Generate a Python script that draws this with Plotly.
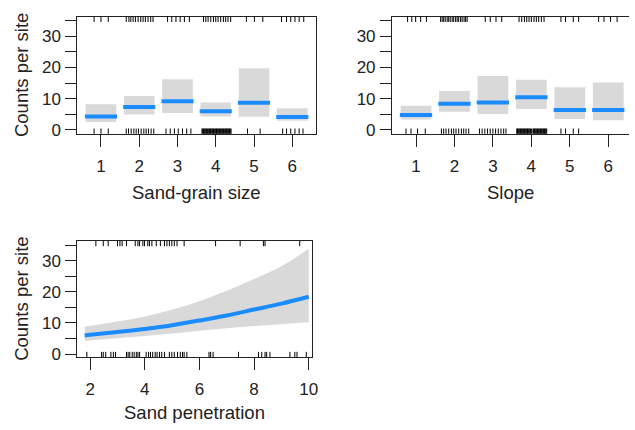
import plotly.graph_objects as go

# ---------------- data ----------------
cats = [1, 2, 3, 4, 5, 6]

grain_fit = [4.3, 7.3, 9.2, 6.0, 8.7, 4.1]
grain_lower = [2.5, 4.9, 5.4, 4.3, 4.2, 2.9]
grain_upper = [8.2, 10.9, 16.2, 8.8, 19.8, 6.9]

slope_fit = [4.8, 8.4, 8.8, 10.5, 6.4, 6.4]
slope_lower = [3.3, 5.8, 5.1, 6.7, 3.5, 3.1]
slope_upper = [7.7, 12.5, 17.3, 16.1, 13.7, 15.2]

pen_x = [1.8, 2, 3, 4, 5, 6, 7, 8, 9, 10]
pen_fit = [6.0, 6.2, 7.1, 8.1, 9.3, 10.8, 12.4, 14.3, 16.2, 18.4]
pen_upper = [8.8, 9.1, 10.5, 12.1, 14.3, 17.0, 20.3, 24.1, 28.2, 33.8]
pen_lower = [4.2, 4.4, 5.1, 5.8, 6.6, 7.5, 8.3, 9.0, 9.6, 10.2]

y_ticks = [0, 5, 10, 15, 20, 25, 30, 35]
y_ticktext = ["0", "", "10", "", "20", "", "30", ""]
pen_ticks = [2, 4, 6, 8, 10]

# rug marks (observations)
grain_rug_top = [0.82, 1.0, 1.19, 1.66, 1.73, 1.78, 1.84, 1.9, 1.97, 2.04, 2.10, 2.16, 2.23,
                 2.30, 2.36, 2.74, 2.85, 2.96, 3.07, 3.18, 3.31, 3.68, 3.74, 3.80, 3.87, 3.94,
                 4.0, 4.06, 4.13, 4.20, 4.26, 4.32, 4.39, 4.80, 5.01, 5.23, 5.72, 5.85, 5.96,
                 6.07, 6.18, 6.30]
grain_rug_bottom = [0.82, 1.0, 1.19, 1.66, 1.72, 1.79, 1.86, 1.92, 1.98, 2.05, 2.12, 2.18, 2.24,
                    2.31, 2.38, 2.70, 2.81, 2.92, 3.02, 3.13, 3.24, 3.35,
                    3.64, 3.66, 3.68, 3.70, 3.72, 3.74, 3.76, 3.78, 3.80, 3.82, 3.84, 3.86,
                    3.88, 3.90, 3.92, 3.94, 3.96, 3.98, 4.00, 4.02, 4.04, 4.06, 4.08, 4.10,
                    4.12, 4.14, 4.16, 4.18, 4.20, 4.22, 4.24, 4.26, 4.28, 4.30, 4.32, 4.34,
                    4.36, 4.38, 4.40, 4.83, 5.16, 5.75, 5.85, 5.96, 6.07, 6.18, 6.28]
slope_rug_top = [0.78, 0.89, 0.99, 1.12, 1.27, 1.64, 1.68, 1.72, 1.76, 1.81, 1.85, 1.89, 1.94,
                 1.98, 2.03, 2.07, 2.11, 2.16, 2.20, 2.25, 2.29, 2.33, 2.80, 2.93, 3.08, 3.23,
                 3.68, 3.75, 3.82, 3.88, 3.94, 4.00, 4.07, 4.13, 4.19, 4.26, 4.33, 4.77, 4.89,
                 5.09, 5.23, 5.75, 5.89, 6.06, 6.23]
slope_rug_bottom = [0.74, 0.87, 1.04, 1.24, 1.66, 1.72, 1.78, 1.85, 1.92, 1.98, 2.04, 2.11,
                    2.18, 2.24, 2.30, 2.37, 2.65, 2.72, 2.79, 2.86, 2.93, 3.00, 3.07, 3.14,
                    3.21, 3.28, 3.34, 3.62, 3.64, 3.66, 3.68, 3.70, 3.72, 3.74, 3.76, 3.78,
                    3.80, 3.82, 3.84, 3.86, 3.88, 3.90, 3.92, 3.94, 3.96, 3.98, 4.00, 4.04,
                    4.06, 4.08, 4.10, 4.12, 4.14, 4.16, 4.18, 4.20, 4.22, 4.24, 4.26, 4.28,
                    4.30, 4.32, 4.34, 4.36, 4.38, 4.40, 4.77, 4.89, 5.09, 5.23]
pen_rug_top = [2.21, 2.48, 2.66, 3.0, 3.09, 3.17, 3.33, 3.65, 3.75, 3.81, 3.93, 3.99, 4.11,
               4.17, 4.26, 4.42, 4.57, 4.72, 4.81, 4.9, 4.99, 5.08, 5.18, 5.44, 6.59, 7.49,
               8.34, 8.40, 9.67]
pen_rug_bottom = [1.88, 2.42, 2.48, 2.57, 2.76, 2.85, 2.93, 3.33, 3.39, 3.45, 3.54, 3.61, 3.69,
                  3.75, 3.81, 4.05, 4.14, 4.21, 4.29, 4.38, 4.45, 4.54, 4.62, 4.72, 4.9, 4.99,
                  5.08, 5.2, 5.3, 5.38, 5.44, 5.54, 6.35, 6.41, 6.5, 7.43, 8.16, 8.28, 8.4,
                  8.46, 8.58, 9.31, 9.49, 9.57, 9.91]

# ---------------- styling ----------------
W, H = 635, 430
BLUE = "#1a8cff"
GREY = "#d9d9d9"
INK = "#222222"
FONT = "Liberation Sans, Arial, sans-serif"
TICKFONT = dict(family=FONT, size=17, color=INK)
TITLEFONT = dict(family=FONT, size=18.5, color=INK)

fig = go.Figure()


def px_x(a, b):
    return [a / W, b / W]


def px_y(top, bottom):
    return [1 - bottom / H, 1 - top / H]


def add_factor_panel(xa, ya, fit, lower, upper):
    fig.add_trace(go.Bar(
        x=cats, y=[u - l for u, l in zip(upper, lower)], base=lower, width=0.8,
        marker=dict(color=GREY, line=dict(width=0)), xaxis=xa, yaxis=ya,
        hoverinfo="skip", showlegend=False))
    xs, ys = [], []
    for c, v in zip(cats, fit):
        xs += [c - 0.42, c + 0.42, None]
        ys += [v, v, None]
    fig.add_trace(go.Scatter(x=xs, y=ys, mode="lines", line=dict(color=BLUE, width=4),
                             xaxis=xa, yaxis=ya, showlegend=False, hoverinfo="skip"))


add_factor_panel("x", "y", grain_fit, grain_lower, grain_upper)
add_factor_panel("x2", "y2", slope_fit, slope_lower, slope_upper)

# continuous panel
fig.add_trace(go.Scatter(x=pen_x, y=pen_upper, mode="lines", line=dict(width=0, shape="spline"),
                         xaxis="x3", yaxis="y3", showlegend=False, hoverinfo="skip"))
fig.add_trace(go.Scatter(x=pen_x, y=pen_lower, mode="lines", line=dict(width=0, shape="spline"),
                         fill="tonexty", fillcolor=GREY,
                         xaxis="x3", yaxis="y3", showlegend=False, hoverinfo="skip"))
fig.add_trace(go.Scatter(x=pen_x, y=pen_fit, mode="lines",
                         line=dict(color=BLUE, width=4, shape="spline"),
                         xaxis="x3", yaxis="y3", showlegend=False, hoverinfo="skip"))

# rugs
shapes = []


def add_rug(xref, yref, vals, top):
    for v in vals:
        y0, y1 = (0.955, 1.0) if top else (0.0, 0.045)
        shapes.append(dict(type="line", xref=xref, yref=yref + " domain", x0=v, x1=v,
                           y0=y0, y1=y1, line=dict(color="black", width=1)))


add_rug("x", "y", grain_rug_top, True)
add_rug("x", "y", grain_rug_bottom, False)
add_rug("x2", "y2", slope_rug_top, True)
add_rug("x2", "y2", slope_rug_bottom, False)
add_rug("x3", "y3", pen_rug_top, True)
add_rug("x3", "y3", pen_rug_bottom, False)

common_x = dict(showgrid=False, zeroline=False, showline=True, mirror=True, linecolor=INK,
                linewidth=1, ticks="outside", ticklen=12, tickwidth=1, tickcolor=INK,
                tickfont=TICKFONT, ticklabelstandoff=5)
common_y = dict(showgrid=False, zeroline=False, showline=True, linecolor=INK, linewidth=1,
                ticks="outside", ticklen=11, tickwidth=1, tickcolor=INK, tickfont=TICKFONT,
                tickvals=y_ticks, ticktext=y_ticktext, ticklabelstandoff=1)

fig.update_layout(
    width=W, height=H, margin=dict(l=0, r=0, t=0, b=0),
    paper_bgcolor="white", plot_bgcolor="white", barmode="overlay",
    xaxis=dict(common_x, domain=px_x(78, 319), range=[0.38, 6.62], tickvals=cats, anchor="y"),
    yaxis=dict(common_y, domain=px_y(17, 136), range=[-1.26, 36.3], mirror=True, anchor="x"),
    xaxis2=dict(common_x, domain=[395.7 / W, 1.0], range=[0.374, 6.54], tickvals=cats, anchor="y2"),
    yaxis2=dict(common_y, domain=px_y(17, 136), range=[-1.26, 36.3], mirror=False, anchor="x2"),
    xaxis3=dict(common_x, domain=px_x(78, 315), range=[1.529, 10.12], tickvals=pen_ticks, anchor="y3"),
    yaxis3=dict(common_y, domain=px_y(245, 363), range=[-0.95, 36.3], mirror=True, anchor="x3"),
    shapes=shapes,
    annotations=[
        dict(text="Counts per site", x=21 / W, y=1 - 76.5 / H, xref="paper", yref="paper",
             textangle=-90, showarrow=False, font=TITLEFONT, xanchor="center", yanchor="middle"),
        dict(text="Counts per site", x=21 / W, y=1 - 304 / H, xref="paper", yref="paper",
             textangle=-90, showarrow=False, font=TITLEFONT, xanchor="center", yanchor="middle"),
        dict(text="Sand-grain size", x=198.5 / W, y=1 - 196 / H, xref="paper", yref="paper",
             showarrow=False, font=TITLEFONT, xanchor="center", yanchor="middle"),
        dict(text="Slope", x=515 / W, y=1 - 196 / H, xref="paper", yref="paper",
             showarrow=False, font=TITLEFONT, xanchor="center", yanchor="middle"),
        dict(text="Sand penetration", x=196.5 / W, y=1 - 419 / H, xref="paper", yref="paper",
             showarrow=False, font=TITLEFONT, xanchor="center", yanchor="middle"),
    ],
)

fig.write_html("out.html")
